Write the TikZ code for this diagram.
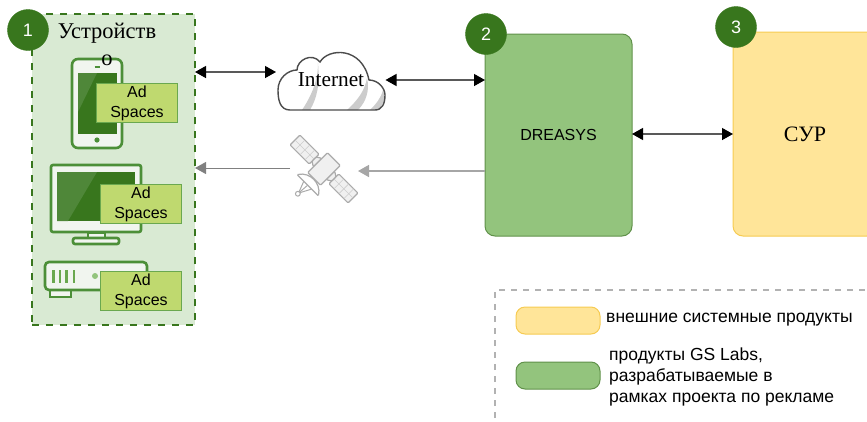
\documentclass[tikz,border=0pt]{standalone}
\usepackage{fontspec}
\setmainfont{Liberation Serif}
\setsansfont{Liberation Sans}
\usetikzlibrary{arrows.meta}
\definecolor{darkgreen}{HTML}{38761D}
\definecolor{midgreen}{HTML}{6AA84F}
\definecolor{lightgreen}{HTML}{93C47D}
\definecolor{palegreen}{HTML}{D9EAD3}
\definecolor{adgreen}{HTML}{BFD96F}
\definecolor{iconline}{HTML}{4C8F38}
\definecolor{iconfill}{HTML}{F1F5EF}
\definecolor{glare}{HTML}{4F8739}
\definecolor{sandy}{HTML}{FFE599}
\definecolor{sandyline}{HTML}{F6CB52}
\definecolor{satgray}{HTML}{ABABAB}
\tikzset{
    badge/.style={circle, fill=darkgreen, draw=darkgreen, minimum size=41pt, inner sep=0pt, text=white, font=\sffamily\fontsize{18}{18}\selectfont},
    adbox/.style={draw=midgreen, fill=adgreen, line width=1.8pt, minimum width=81pt, minimum height=39pt, inner sep=0pt, align=center, font=\sffamily\fontsize{16}{20}\selectfont},
    product/.style={rounded corners=10pt, line width=1pt, minimum height=202pt, inner sep=0pt, outer sep=0pt},
    swatch/.style={rounded corners=9pt, line width=1pt, minimum width=84pt, minimum height=27pt, inner sep=0pt},
    legendtext/.style={anchor=west, inner sep=0pt, align=left, font=\sffamily\fontsize{17.5}{20.6}\selectfont},
    link/.style={{Triangle[length=11pt,width=12pt,black]}-{Triangle[length=11pt,width=12pt,black]}, line width=1.3pt, black!65},
    satlink/.style={-{Triangle[length=11pt,width=12pt]}, line width=1.6pt, black!35},
    icon/.style={draw=iconline, line width=2.6pt, fill=iconfill},
    satpart/.style={draw=satgray, line width=1.2pt, fill=black!6, rounded corners=1pt}
}
\begin{document}
\begin{tikzpicture}[x=1pt, y=-1pt]
    \useasboundingbox (0,0) rectangle (867,421);
    \clip (0,0) rectangle (867,421);
    % devices
    \node[draw=darkgreen, fill=palegreen, line width=1.4pt, dash pattern=on 7pt off 7pt, minimum width=163pt, minimum height=311pt, inner sep=0pt, outer sep=0pt] (devices) at (113.5,169.5) {};
    % phone
    \draw[icon, rounded corners=6pt] (72,59) rectangle (122,148);
    \fill[darkgreen] (78,73) rectangle (117,134);
    \fill[glare] (78,73) -- (97,73) -- (78,112) -- cycle;
    \draw[iconline, line width=1.8pt] (94.5,67) -- (100,67);
    \fill[iconline] (97,140) circle (2.6pt);
    \node[adbox] (adphone) at (137,103) {Ad\\Spaces};
    % monitor
    \draw[icon, rounded corners=2pt] (51,165) rectangle (141,232);
    \fill[darkgreen] (57,172) rectangle (135,221);
    \fill[glare] (57,172) -- (97,172) -- (68,221) -- (57,221) -- cycle;
    \draw[icon] (88,233) rectangle (105,238);
    \draw[icon, rounded corners=2pt] (73,238) rectangle (119,244);
    \node[adbox] (admonitor) at (141,204) {Ad\\Spaces};
    % set top box
    \draw[icon] (50,290) rectangle (71,297);
    \draw[icon, rounded corners=4pt] (45,262) rectangle (147,290);
    \draw[midgreen, line width=2.6pt] (53.5,270) -- (53.5,283);
    \draw[midgreen, line width=2.6pt] (60,270) -- (60,283);
    \draw[midgreen, line width=2.6pt] (66.5,270) -- (66.5,283);
    \draw[midgreen, line width=2.6pt] (74,270) -- (74,283);
    \fill[lightgreen] (95,276) circle (3pt);
    \node[adbox] (adbox3) at (141,291) {Ad\\Spaces};
    \node[align=center, inner sep=0pt, font=\fontsize{22.5}{27}\selectfont] (devtitle) at (107,44) {Устройств\\о};
    % cloud
    \begin{scope}
        \clip (290,110) .. controls (280,110) and (278,100) .. (278,90) .. controls (278,78) and (288,70) .. (297,70) .. controls (297,60) and (312,52) .. (320,62) .. controls (328,48) and (362,46) .. (369,80) .. controls (378,80) and (385,88) .. (385,95) .. controls (385,104) and (382,110) .. (375,110) -- cycle;
        \fill[black!20] (302,110) .. controls (312,95) and (318,80) .. (318,63) .. controls (320,85) and (317,98) .. (310,110) -- cycle;
        \fill[black!20] (347,110) .. controls (358,100) and (365,90) .. (367,78) .. controls (370,90) and (366,102) .. (358,110) -- cycle;
        \fill[black!20] (370,110) .. controls (376,104) and (381,98) .. (383,90) .. controls (386,98) and (384,105) .. (378,110) -- cycle;
    \end{scope}
    \draw[black!70, line width=1.4pt] (290,110) .. controls (280,110) and (278,100) .. (278,90) .. controls (278,78) and (288,70) .. (297,70) .. controls (297,60) and (312,52) .. (320,62) .. controls (328,48) and (362,46) .. (369,80) .. controls (378,80) and (385,88) .. (385,95) .. controls (385,104) and (382,110) .. (375,110) -- cycle;
    \node[minimum width=109pt, minimum height=61pt, inner sep=0pt, outer sep=0pt, font=\fontsize{21.3}{21}\selectfont] (cloud) at (331,80) {Internet};
    % satellite
    \node[minimum width=68pt, minimum height=68pt, inner sep=0pt, outer sep=0pt] (satellite) at (324,169) {};
    \begin{scope}[shift={(324,169)}, rotate=-45]
        \draw[satpart] (-41,-7) rectangle (-14,7);
        \draw[satgray!60, line width=.6pt] (-34,-7) -- (-34,7);
        \draw[satgray!60, line width=.6pt] (-27,-7) -- (-27,7);
        \draw[satgray!60, line width=.6pt] (-20,-7) -- (-20,7);
        \draw[satgray!60, line width=.6pt] (-41,0) -- (-14,0);
        \draw[satpart] (14,-7) rectangle (41,7);
        \draw[satgray!60, line width=.6pt] (21,-7) -- (21,7);
        \draw[satgray!60, line width=.6pt] (28,-7) -- (28,7);
        \draw[satgray!60, line width=.6pt] (35,-7) -- (35,7);
        \draw[satgray!60, line width=.6pt] (14,0) -- (41,0);
        \draw[satpart] (-14,-3) -- (-9,-6) -- (-9,6) -- (-14,3) -- cycle;
        \draw[satpart] (14,-3) -- (9,-6) -- (9,6) -- (14,3) -- cycle;
        \draw[satpart] (-9,-14) rectangle (9,14);
        \draw[satgray, line width=1pt] (0,14) -- (0,17);
        \draw[satgray, line width=1pt] (-6,22) -- (-1,35);
        \draw[satgray, line width=1pt] (6,22) -- (-1,35);
        \draw[satgray, line width=1pt] (0,22) -- (-1,35);
        \draw[satpart, fill=white] (-15,23) .. controls (-8,12) and (8,12) .. (15,23) -- cycle;
        \draw[satgray, line width=1pt, fill=white] (-1,36) circle (2.4pt);
    \end{scope}
    % products
    \node[product, draw=darkgreen!80, fill=lightgreen, minimum width=147pt, font=\sffamily\fontsize{16}{16}\selectfont] (dreasys) at (558.5,135) {DREASYS};
    \node[product, draw=sandyline, fill=sandy, minimum width=144pt, minimum height=204pt, font=\fontsize{22}{22}\selectfont] (sur) at (805,134) {СУР};
    \node[badge] (badge1) at (28,30) {1};
    \node[badge] (badge2) at (486,34) {2};
    \node[badge] (badge3) at (736,27) {3};
    % links
    \coordinate (netleft) at (276,72);
    \coordinate (satright) at (358,171);
    \coordinate (satleft) at (290,168);
    \draw[link] (devices.east |- netleft) -- (netleft);
    \draw[link] (cloud.east) -- (dreasys.west |- cloud.east);
    \draw[link] (dreasys.east |- sur.west) -- (sur.west);
    \draw[satlink, line width=1pt, black!50] (satleft) -- (devices.east |- satleft);
    \draw[satlink] (dreasys.west |- satright) -- (satright);
    % legend
    \draw[black!30, line width=1.2pt, dash pattern=on 6pt off 6pt] (495,418) -- (495,290) -- (867,290);
    \node[swatch, draw=sandyline, fill=sandy] (swatchsur) at (558,320.5) {};
    \node[swatch, draw=darkgreen!80, fill=lightgreen] (swatchgs) at (558,375.5) {};
    \node[legendtext] (legendsur) at (606,320) {внешние системные продукты};
    \node[legendtext] (legendgs) at (609,377) {продукты GS Labs,\\разрабатываемые в\\рамках проекта по рекламе};
\end{tikzpicture}
\end{document}
